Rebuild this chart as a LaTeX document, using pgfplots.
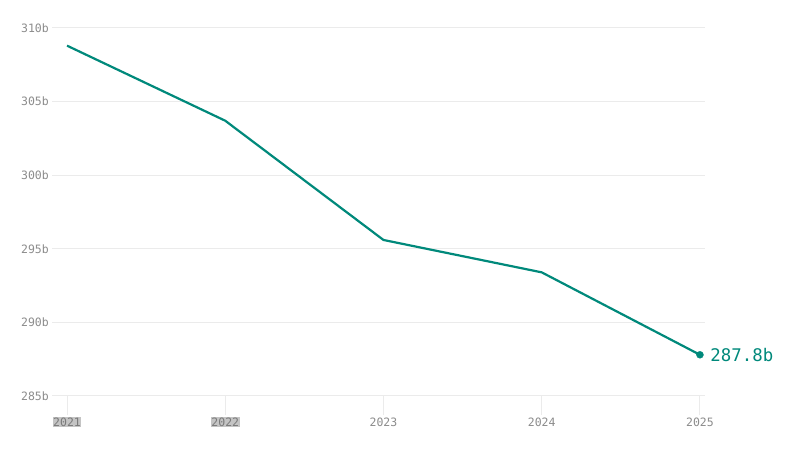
\documentclass[border=0pt]{standalone}
\usepackage{pgfplots}
\pgfplotsset{compat=1.18}
\usepackage{fontspec}
\setmainfont{DejaVu Sans Mono}
\setmonofont{DejaVu Sans Mono}
\definecolor{teal1}{HTML}{00897B}
\definecolor{gridc}{HTML}{EBEBEB}
\definecolor{tickc}{HTML}{8C8C8C}
\definecolor{hlbg}{HTML}{C4C4C4}
\definecolor{hltx}{HTML}{7A7A7A}
\newcommand{\hl}[1]{{\setlength{\fboxsep}{0.6pt}\colorbox{hlbg}{\textcolor{hltx}{#1}}}}
\begin{document}
\begin{tikzpicture}
\useasboundingbox[fill=white] (0,0) rectangle (800pt,460pt);
\begin{axis}[
  at={(52pt,64pt)}, anchor=south west,
  scale only axis, width=653pt, height=368pt,
  xmin=2020.905, xmax=2025.032,
  ymin=285, ymax=310,
  clip=false,
  axis line style={draw=none},
  xtick pos=bottom, ytick pos=left,
  xtick={2021,2022,2023,2024,2025},
  xticklabels={\hl{2021},\hl{2022},2023,2024,2025},
  ytick={285,290,295,300,305,310},
  yticklabel={\pgfmathprintnumber{\tick}b},
  /pgf/number format/assume math mode=true,
  ymajorgrids, grid style={gridc, line width=1pt},
  tick align=outside,
  major tick length=19pt,
  xtick style={gridc, line width=1pt},
  ytick style={draw=none},
  ticklabel style={font=\fontsize{11.5}{12}\selectfont, text=tickc},
  xticklabel style={anchor=center, yshift=-7pt, inner sep=0pt},
  yticklabel style={anchor=east, inner sep=0pt, xshift=16pt},
]
\addplot[teal1, line width=2.2pt, line join=round] coordinates {
  (2021,308.8) (2022,303.7) (2023,295.6) (2024,293.4) (2025,287.8)
};
\addplot[teal1, only marks, mark=*, mark size=3.5pt,
  nodes near coords={287.8b},
  every node near coord/.style={anchor=west, xshift=7pt, text=teal1, font=\fontsize{17.4}{18}\selectfont}]
  coordinates {(2025,287.8)};
\end{axis}
\end{tikzpicture}
\end{document}
